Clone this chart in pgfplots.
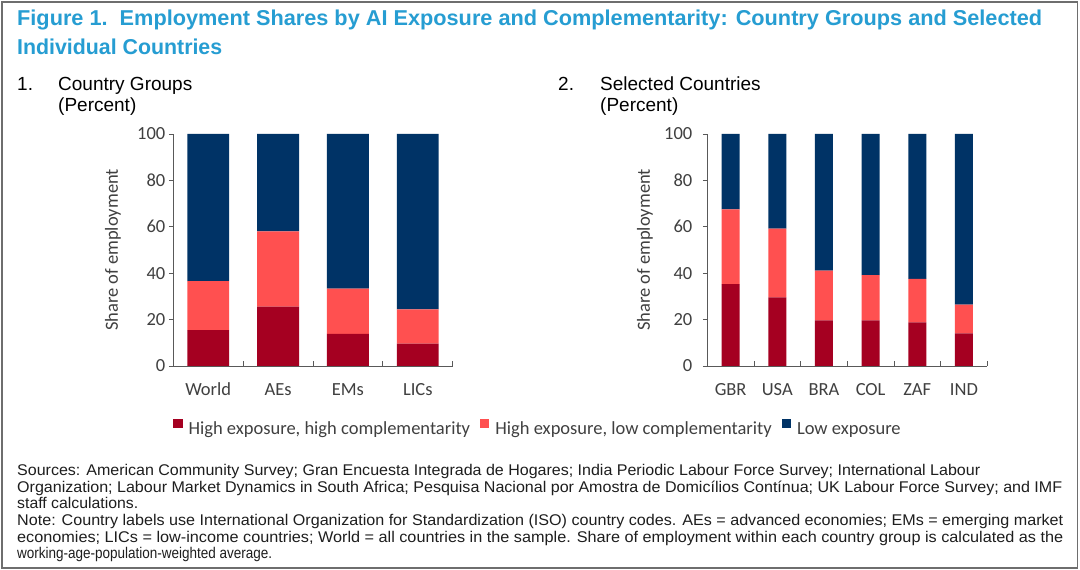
\documentclass[border=0pt]{standalone}
\usepackage{fontspec}
\setmainfont{Liberation Sans}
\newfontfamily\calib{Carlito}
\usepackage{graphicx}
\usepackage{pgfplots}
\usepackage{pgfplotstable}
\pgfplotsset{compat=1.18}

\definecolor{hh}{RGB}{165,0,33}
\definecolor{hl}{RGB}{255,80,80}
\definecolor{lo}{RGB}{0,51,102}
\definecolor{ttl}{RGB}{38,157,210}
\definecolor{axgray}{RGB}{89,89,89}
\definecolor{lbl}{RGB}{64,64,64}
\definecolor{frame}{RGB}{110,110,110}

\pgfplotstableread{
x hh hl lo
0 15.5 21.1 63.4
1 25.6 32.4 42.0
2 13.9 19.4 66.7
3 9.6 14.8 75.6
}\groups

\pgfplotstableread{
x hh hl lo
0 35.3 32.2 32.5
1 29.6 29.6 40.8
2 19.7 21.4 58.9
3 19.7 19.5 60.8
4 18.8 18.8 62.4
5 14.1 12.3 73.6
}\countries

\newcommand\chartfont{\calib\fontsize{18.5bp}{22bp}\selectfont}

\pgfplotsset{
  panel/.style={
    scale only axis, height=232bp,
    ymin=0, ymax=100, ytick={0,20,...,100},
    ybar stacked,
    axis x line=bottom, axis y line=left,
    axis line style={-, axgray, line width=0.9bp},
    xtick align=inside, ytick align=outside,
    major tick length=4.5bp,
    tick style={axgray, line width=0.9bp},
    x tick label as interval,
    tick label style={font=\chartfont, text=lbl},
    xticklabel style={text height=12bp, text depth=0bp, yshift=-14bp},
    /pgf/number format/assume math mode=true,
    ylabel={Share of employment},
    ylabel style={font=\chartfont, text=lbl, anchor=center},
    every axis plot/.append style={draw=none},
    xmin=-0.5,
    clip=false,
  }
}

\begin{document}
\begin{tikzpicture}
\useasboundingbox (0,0) rectangle (1080bp,570bp);
\fill[white] (0,0) rectangle (1080bp,570bp);
\draw[frame, line width=1.3bp] (2bp,2bp) rectangle (1077.5bp,568bp);

% Title
\node[anchor=base west, inner sep=0pt, text=ttl] at (17bp,544bp)
  {\resizebox{1025bp}{\height}{\fontsize{21.5bp}{25bp}\selectfont\bfseries Figure 1.\ \ Employment Shares by AI Exposure and Complementarity: Country Groups and Selected}};
\node[anchor=base west, inner sep=0pt, text=ttl] at (17bp,515bp)
  {\resizebox{205bp}{\height}{\fontsize{21.5bp}{25bp}\selectfont\bfseries Individual Countries}};

% Subtitles
\begin{scope}[every node/.style={anchor=base west, inner sep=0pt, font=\fontsize{19bp}{22bp}\selectfont}]
\node at (17bp,479.3bp) {1.};
\node at (58bp,479.3bp) {Country Groups};
\node at (58bp,458.3bp) {(Percent)};
\node at (558bp,479.3bp) {2.};
\node at (600bp,479.3bp) {Selected Countries};
\node at (600bp,458.3bp) {(Percent)};
\end{scope}

% Left panel
\begin{axis}[panel,
  at={(173.3bp,204bp)}, anchor=south west, width=279.4bp,
  xmax=3.5, xtick={-0.5,0.5,1.5,2.5,3.5},
  xticklabels={World,AEs,EMs,LICs},
  bar width=0.6,
  ylabel style={at={(axis description cs:-0.2158,0.5)}},
  legend columns=3,
  legend image code/.code={\fill[#1] (0bp,1bp) rectangle (9.3bp,10.3bp);},
  legend style={draw=none, fill=none, inner sep=0pt, outer sep=0pt,
    at={(axis description cs:1.3017,-0.2642)}, anchor=center,
    font=\chartfont, text=lbl,
    nodes={inner sep=0pt},
    /tikz/every odd column/.append style={column sep=6bp},
    /tikz/every even column/.append style={column sep=10bp}},
]
\addplot[fill=hh] table[x=x,y=hh]{\groups};
\addplot[fill=hl] table[x=x,y=hl]{\groups};
\addplot[fill=lo] table[x=x,y=lo]{\groups};
\legend{{High exposure, high complementarity},{High exposure, low complementarity},{Low exposure}}
\end{axis}

% Right panel
\begin{axis}[panel,
  at={(707.3bp,204bp)}, anchor=south west, width=280bp,
  xmax=5.5, xtick={-0.5,0.5,1.5,2.5,3.5,4.5,5.5},
  xticklabels={GBR,USA,BRA,COL,ZAF,IND},
  bar width=0.386,
  yticklabel style={xshift=-7bp},
  ylabel style={at={(axis description cs:-0.2225,0.5)}},
]
\addplot[fill=hh] table[x=x,y=hh]{\countries};
\addplot[fill=hl] table[x=x,y=hl]{\countries};
\addplot[fill=lo] table[x=x,y=lo]{\countries};
\end{axis}

% Notes
\begin{scope}[every node/.style={anchor=base west, inner sep=0pt, text={rgb,255:red,30;green,30;blue,30}, font=\fontsize{15.5bp}{16bp}\selectfont}]
\node at (17bp,94bp) {\resizebox{963bp}{\height}{Sources: American Community Survey; Gran Encuesta Integrada de Hogares; India Periodic Labour Force Survey; International Labour}};
\node at (17bp,77.5bp) {\resizebox{1045bp}{\height}{Organization; Labour Market Dynamics in South Africa; Pesquisa Nacional por Amostra de Domicílios Contínua; UK Labour Force Survey; and IMF}};
\node at (17bp,61bp) {\resizebox{121bp}{\height}{staff calculations.}};
\node at (17bp,44.5bp) {\resizebox{1046bp}{\height}{Note: Country labels use International Organization for Standardization (ISO) country codes. AEs = advanced economies; EMs = emerging market}};
\node at (17bp,28bp) {\resizebox{1046bp}{\height}{economies; LICs = low-income countries; World = all countries in the sample. Share of employment within each country group is calculated as the}};
\node at (17bp,11.5bp) {\resizebox{255bp}{\height}{working-age-population-weighted average.}};
\end{scope}
\end{tikzpicture}
\end{document}
